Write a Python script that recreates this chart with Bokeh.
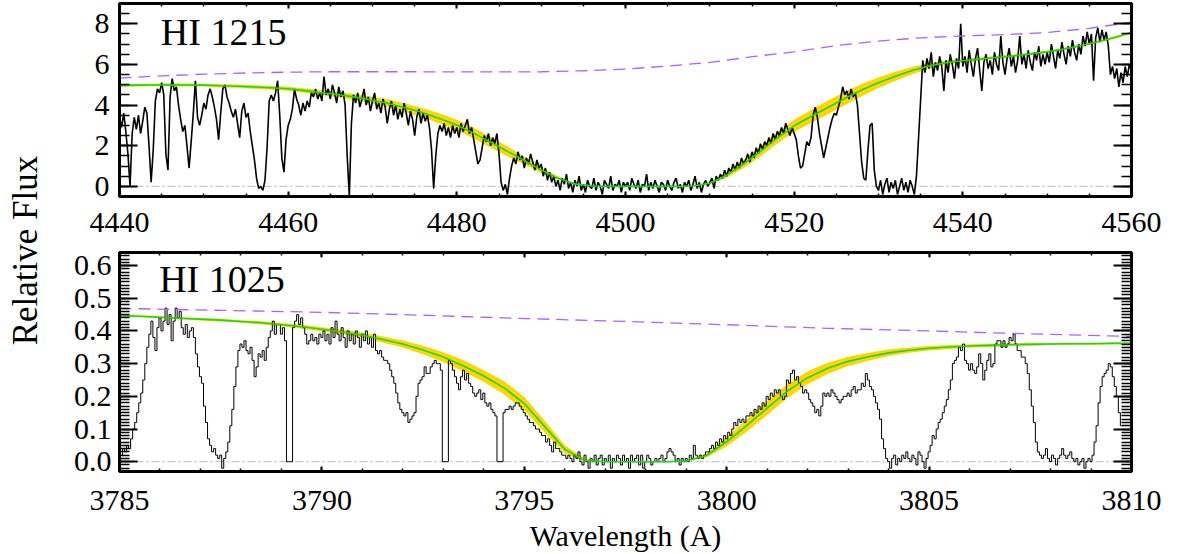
import numpy as np
from bokeh.plotting import figure
from bokeh.layouts import row, column
from bokeh.models import (Range1d, LinearAxis, SingleIntervalTicker,
                          PrintfTickFormatter, Span, Label)
from bokeh.embed import file_html
from bokeh.resources import INLINE

SERIF = "Liberation Serif"
GREEN = "#12dc12"
GOLD = "#ffd400"
VIOLET = "#b35ef7"
ZERO_GREY = "#b8b8b8"

# ---------------- HI 1215 (Lyman alpha) ----------------
lya_wave0, lya_dwave = 4440.0, 0.25
lya_flux = [
    3.4, 2.9, 3.6, 2.7, 1.6, 0.0, 2.6, 3.4, 2.8, 3.5, 2.6, 3.2, 3.9, 3.6, 2.0, 0.2, 1.8, 4.2, 4.8, 4.6,
    5.1, 4.5, 1.6, 0.8, 4.4, 5.3, 4.7, 4.9, 4.0, 3.3, 2.7, 3.0, 2.0, 0.9, 2.2, 3.6, 5.2, 3.4, 3.0, 3.5,
    4.1, 3.8, 4.5, 4.8, 4.4, 3.9, 3.3, 2.3, 3.6, 4.8, 5.0, 4.4, 4.1, 3.7, 3.4, 3.8, 3.1, 2.4, 3.7, 4.1,
    3.4, 3.6, 2.7, 2.0, 1.3, 0.4, -0.1, 0.0, -0.2, 0.3, 1.9, 4.2, 4.5, 4.2, 4.6, 5.2, 3.5, 1.4, 0.7, 2.3,
    3.0, 3.3, 3.8, 4.8, 4.3, 4.0, 3.5, 4.1, 3.7, 4.2, 3.9, 4.6, 4.4, 4.8, 4.3, 4.6, 4.2, 5.4, 4.5, 4.8,
    4.3, 5.0, 4.6, 4.1, 4.9, 4.4, 4.7, 4.0, 1.5, -0.5, 3.1, 4.5, 4.1, 4.6, 3.9, 4.3, 4.8, 4.0, 4.4, 3.7,
    4.2, 4.6, 3.8, 4.1, 3.6, 4.3, 3.9, 3.1, 3.8, 4.2, 3.5, 4.0, 3.3, 3.8, 3.4, 4.1, 3.6, 3.0, 3.7, 3.3,
    2.5, 3.4, 3.8, 3.1, 3.6, 3.2, 3.5, 2.9, 1.8, -0.1, 1.5, 2.6, 3.0, 2.7, 3.1, 2.5, 2.9, 2.4, 3.0, 2.6,
    2.9, 2.4, 3.1, 2.7, 3.0, 3.3, 2.6, 2.9, 2.3, 1.7, 1.1, 1.3, 1.9, 2.5, 2.2, 2.6, 2.0, 2.4, 2.1, 2.6,
    1.6, 0.2, -0.2, 0.1, -0.4, 0.4, 1.0, 1.4, 1.1, 1.7, 1.3, 1.5, 0.9, 1.4, 1.1, 1.6, 1.2, 0.8, 1.3, 0.9,
    1.1, 0.5, 0.9, 0.3, 0.7, 0.2, 0.5, 0.0, 0.3, -0.2, 0.4, 0.1, 0.6, -0.1, 0.2, -0.3, 0.3, 0.0, 0.5, -0.2,
    0.1, -0.3, 0.3, 0.0, -0.1, 0.4, -0.2, 0.2, 0.0, -0.4, 0.3, 0.1, -0.1, 0.5, -0.2, 0.1, 0.0, 0.3, -0.3, 0.2,
    0.0, 0.2, -0.2, 0.4, 0.1, -0.1, 0.3, -0.3, 0.1, 0.0, 0.6, -0.2, 0.2, -0.1, 0.3, 0.0, -0.3, 0.2, 0.1, -0.2,
    0.3, 0.0, -0.2, 0.2, 0.4, -0.1, 0.1, -0.3, 0.2, 0.0, 0.3, -0.2, 0.1, 0.5, -0.1, 0.2, -0.3, 0.1, 0.3, 0.0,
    0.2, 0.4, -0.1, 0.5, 0.3, 0.6, 0.4, 0.8, 0.5, 0.9, 0.7, 1.1, 0.8, 1.2, 0.9, 1.4, 1.1, 1.3, 1.6, 1.2,
    1.7, 1.4, 1.9, 1.6, 2.1, 1.8, 2.2, 2.0, 2.4, 2.1, 2.6, 2.3, 2.7, 2.5, 2.9, 2.6, 3.1, 2.8, 2.5, 2.9,
    2.6, 2.3, 1.5, 0.9, 1.0, 1.6, 2.2, 2.0, 2.4, 3.5, 3.9, 3.4, 2.6, 2.0, 1.4, 1.9, 2.4, 2.9, 3.3, 3.6,
    3.5, 3.9, 4.3, 4.9, 4.5, 4.7, 4.3, 4.8, 4.4, 4.6, 4.0, 2.6, 1.2, 0.4, 0.3, 1.8, 3.0, 3.1, 0.8, 0.0,
    -0.2, 0.3, -0.4, 0.1, 0.4, -0.3, 0.2, -0.1, 0.3, -0.4, 0.0, 0.4, -0.2, 0.2, -0.3, 0.3, 0.0, -0.4, 0.5, 2.4,
    4.3, 6.2, 5.6, 6.3, 5.8, 6.6, 5.4, 6.1, 5.7, 6.4, 5.9, 4.7, 6.2, 5.6, 6.5, 6.0, 5.3, 6.3, 5.8, 8.0,
    5.9, 6.4, 5.6, 6.7, 6.0, 5.4, 6.3, 6.8, 5.7, 4.7, 6.1, 6.5, 5.8, 6.2, 5.5, 6.6, 6.0, 5.7, 7.4, 6.1,
    5.5, 6.3, 6.8, 5.9, 6.4, 5.6, 6.2, 7.4, 6.0, 6.5, 5.8, 6.7, 6.1, 5.7, 6.6, 6.2, 6.9, 5.9, 6.5, 6.0,
    6.6, 6.1, 7.0, 6.4, 5.8, 6.7, 6.3, 7.1, 6.5, 6.0, 6.9, 6.4, 7.2, 6.6, 6.2, 7.0, 6.5, 7.4, 6.9, 7.6,
    7.0, 7.5, 5.2, 7.3, 7.8, 7.1, 7.7, 7.2, 7.6, 6.9, 5.5, 5.9, 5.3, 5.8, 4.9, 5.6, 5.1, 5.9, 5.4, 6.0,
    5.7,
]
lya_fit_wave0, lya_fit_dwave = 4440.0, 2.0
lya_fit = [
    4.96, 4.98, 4.99, 5.00, 4.99, 4.98, 4.95, 4.93, 4.89, 4.85,
    4.80, 4.71, 4.61, 4.51, 4.39, 4.24, 4.07, 3.86, 3.62, 3.33,
    3.02, 2.62, 2.17, 1.72, 1.27, 0.80, 0.40, 0.12, 0.02, 0.00,
    0.00, 0.00, 0.00, 0.00, 0.02, 0.15, 0.55, 1.10, 1.72, 2.38,
    2.98, 3.44, 3.88, 4.32, 4.74, 5.10, 5.42, 5.70, 5.92, 6.08,
    6.18, 6.26, 6.34, 6.42, 6.52, 6.62, 6.76, 6.93, 7.12, 7.33,
    7.57,
]
lya_fit_err = [
    0.06, 0.06, 0.06, 0.07, 0.07, 0.07, 0.08, 0.08, 0.09, 0.09,
    0.10, 0.11, 0.12, 0.13, 0.15, 0.17, 0.19, 0.21, 0.23, 0.25,
    0.26, 0.27, 0.26, 0.24, 0.20, 0.14, 0.08, 0.03, 0.01, 0.00,
    0.00, 0.00, 0.00, 0.00, 0.01, 0.05, 0.13, 0.20, 0.24, 0.27,
    0.30, 0.32, 0.33, 0.32, 0.30, 0.26, 0.22, 0.18, 0.14, 0.11,
    0.09, 0.08, 0.07, 0.07, 0.06, 0.06, 0.06, 0.06, 0.06, 0.06,
    0.06,
]
lya_cont_wave = [4440, 4445, 4450, 4455, 4460, 4465, 4470, 4475, 4480, 4485,
                 4490, 4495, 4500, 4505, 4510, 4515, 4520, 4525, 4530, 4535,
                 4540, 4545, 4550, 4555, 4560]
lya_cont = [5.33, 5.44, 5.52, 5.58, 5.62, 5.64, 5.64, 5.64, 5.63, 5.63,
            5.64, 5.69, 5.77, 5.92, 6.10, 6.38, 6.62, 6.93, 7.15, 7.31,
            7.40, 7.47, 7.57, 7.78, 8.08]

# ---------------- HI 1025 (Lyman beta) ----------------
lyb_wave0, lyb_dwave = 3785.0, 0.05
lyb_flux = [
    0.03, 0.02, 0.04, 0.03, 0.05, 0.04, 0.07, 0.10, 0.12, 0.15, 0.18, 0.21, 0.25, 0.30, 0.35, 0.39, 0.43, 0.38, 0.34, 0.41,
    0.44, 0.40, 0.43, 0.47, 0.42, 0.45, 0.37, 0.43, 0.47, 0.44, 0.46, 0.41, 0.39, 0.42, 0.38, 0.40, 0.41, 0.38, 0.33, 0.29,
    0.26, 0.24, 0.17, 0.12, 0.07, 0.05, 0.03, 0.04, 0.02, 0.01, 0.02, -0.02, 0.01, 0.03, 0.06, 0.11, 0.16, 0.23, 0.29, 0.34,
    0.36, 0.35, 0.37, 0.34, 0.33, 0.35, 0.31, 0.26, 0.29, 0.33, 0.32, 0.34, 0.31, 0.35, 0.38, 0.40, 0.43, 0.39, 0.42, 0.42,
    0.39, 0.41, 0.37, 0.00, 0.00, 0.00, 0.41, 0.43, 0.45, 0.42, 0.44, 0.41, 0.39, 0.36, 0.37, 0.39, 0.37, 0.38, 0.36, 0.39,
    0.38, 0.40, 0.37, 0.39, 0.36, 0.41, 0.38, 0.43, 0.39, 0.37, 0.41, 0.38, 0.35, 0.40, 0.37, 0.39, 0.36, 0.40, 0.38, 0.35,
    0.39, 0.37, 0.40, 0.36, 0.38, 0.35, 0.39, 0.34, 0.33, 0.34, 0.32, 0.31, 0.31, 0.30, 0.28, 0.26, 0.24, 0.21, 0.18, 0.16,
    0.15, 0.14, 0.15, 0.12, 0.13, 0.14, 0.15, 0.20, 0.24, 0.25, 0.26, 0.29, 0.27, 0.27, 0.29, 0.30, 0.31, 0.30, 0.30, 0.28,
    0.00, 0.00, 0.00, 0.31, 0.30, 0.28, 0.26, 0.24, 0.22, 0.26, 0.28, 0.25, 0.27, 0.24, 0.23, 0.21, 0.20, 0.21, 0.22, 0.19,
    0.21, 0.18, 0.17, 0.18, 0.16, 0.15, 0.14, 0.00, 0.00, 0.00, 0.15, 0.16, 0.16, 0.17, 0.16, 0.17, 0.18, 0.18, 0.17, 0.16,
    0.15, 0.14, 0.13, 0.12, 0.12, 0.11, 0.10, 0.10, 0.09, 0.08, 0.08, 0.06, 0.07, 0.05, 0.03, 0.06, 0.04, 0.04, 0.03, 0.02,
    0.02, 0.01, 0.02, 0.01, 0.00, 0.02, 0.01, 0.03, 0.00, -0.01, 0.02, 0.00, -0.02, 0.01, 0.00, 0.02, -0.01, 0.01, 0.02, -0.01,
    0.01, 0.00, 0.02, -0.02, 0.01, 0.00, 0.02, 0.01, -0.01, 0.02, 0.00, 0.01, -0.02, 0.02, 0.00, 0.01, 0.02, -0.01, 0.02, -0.02,
    0.00, 0.02, 0.01, -0.01, 0.00, 0.01, 0.00, 0.01, 0.02, 0.00, 0.01, 0.03, 0.04, 0.03, 0.02, 0.00, 0.01, -0.01, 0.01, 0.00,
    0.01, 0.00, 0.02, 0.01, 0.05, 0.02, 0.01, 0.02, 0.01, 0.02, 0.03, 0.03, 0.04, 0.05, 0.04, 0.06, 0.05, 0.07, 0.06, 0.08,
    0.07, 0.09, 0.08, 0.10, 0.12, 0.11, 0.13, 0.12, 0.13, 0.12, 0.14, 0.14, 0.15, 0.14, 0.16, 0.15, 0.17, 0.16, 0.18, 0.17,
    0.20, 0.19, 0.21, 0.20, 0.22, 0.21, 0.22, 0.20, 0.19, 0.20, 0.25, 0.24, 0.27, 0.28, 0.25, 0.26, 0.24, 0.23, 0.21, 0.22,
    0.21, 0.19, 0.18, 0.17, 0.15, 0.16, 0.14, 0.17, 0.21, 0.20, 0.21, 0.20, 0.22, 0.21, 0.20, 0.19, 0.18, 0.19, 0.20, 0.20,
    0.21, 0.20, 0.22, 0.23, 0.21, 0.22, 0.22, 0.24, 0.23, 0.27, 0.25, 0.23, 0.22, 0.20, 0.18, 0.16, 0.13, 0.07, 0.04, 0.01,
    0.00, -0.02, 0.01, 0.02, -0.01, 0.01, 0.00, 0.02, 0.01, 0.03, 0.01, 0.00, 0.02, 0.01, -0.01, 0.03, 0.02, 0.00, -0.02, 0.01,
    0.03, 0.05, 0.08, 0.07, 0.10, 0.12, 0.13, 0.15, 0.17, 0.19, 0.22, 0.25, 0.30, 0.31, 0.32, 0.35, 0.34, 0.36, 0.31, 0.30,
    0.28, 0.30, 0.28, 0.27, 0.29, 0.33, 0.30, 0.25, 0.28, 0.31, 0.33, 0.29, 0.30, 0.36, 0.37, 0.37, 0.35, 0.37, 0.35, 0.36,
    0.38, 0.37, 0.39, 0.36, 0.34, 0.34, 0.32, 0.32, 0.30, 0.27, 0.22, 0.17, 0.12, 0.06, 0.03, 0.02, 0.01, 0.02, 0.04, 0.01,
    0.00, 0.02, 0.01, -0.01, 0.01, 0.02, 0.04, 0.02, 0.01, 0.02, 0.03, 0.01, 0.00, 0.01, -0.01, 0.00, 0.01, -0.02, 0.00, 0.01,
    0.00, 0.02, 0.06, 0.11, 0.18, 0.23, 0.26, 0.27, 0.28, 0.30, 0.29, 0.26, 0.23, 0.20, 0.15, 0.11,
]
lyb_fit_wave0, lyb_fit_dwave = 3785.0, 0.5
lyb_fit = [
    0.447, 0.445, 0.442, 0.439, 0.436, 0.433, 0.429, 0.425, 0.419, 0.413,
    0.405, 0.397, 0.387, 0.374, 0.360, 0.342, 0.320, 0.293, 0.262, 0.226,
    0.178, 0.108, 0.038, 0.004, 0.000, 0.000, 0.000, 0.000, 0.002, 0.019,
    0.061, 0.111, 0.164, 0.216, 0.257, 0.286, 0.307, 0.321, 0.333, 0.341,
    0.347, 0.351, 0.354, 0.356, 0.358, 0.359, 0.360, 0.361, 0.361, 0.362,
    0.362,
]
lyb_fit_err = [
    0.003, 0.003, 0.003, 0.003, 0.004, 0.004, 0.004, 0.005, 0.005, 0.006,
    0.006, 0.007, 0.008, 0.009, 0.011, 0.013, 0.015, 0.017, 0.018, 0.020,
    0.020, 0.018, 0.012, 0.004, 0.000, 0.000, 0.000, 0.000, 0.001, 0.006,
    0.014, 0.019, 0.021, 0.021, 0.020, 0.017, 0.014, 0.012, 0.010, 0.008,
    0.007, 0.006, 0.005, 0.005, 0.004, 0.004, 0.003, 0.003, 0.003, 0.003,
    0.003,
]
lyb_cont_wave = [3785.0, 3787.5, 3790.0, 3792.5, 3795.0, 3797.5,
                 3800.0, 3802.5, 3805.0, 3807.5, 3810.0]
lyb_cont = [0.469, 0.463, 0.457, 0.448, 0.438, 0.429,
            0.419, 0.408, 0.400, 0.391, 0.383]


def dress_axis(ax, interval, n_minor, fmt, major_in, minor_in, labelled, standoff=0):
    ax.ticker = SingleIntervalTicker(interval=interval, num_minor_ticks=n_minor)
    ax.formatter = PrintfTickFormatter(format=fmt)
    ax.axis_line_color = "black"
    ax.axis_line_width = 3
    ax.major_tick_in = major_in
    ax.major_tick_out = 0
    ax.minor_tick_in = minor_in
    ax.minor_tick_out = 0
    ax.major_tick_line_color = "black"
    ax.minor_tick_line_color = "black"
    ax.major_tick_line_width = 2
    ax.minor_tick_line_width = 1.5
    if labelled:
        ax.major_label_text_font = SERIF
        ax.major_label_text_font_size = "30px"
        ax.major_label_text_color = "black"
        ax.major_label_standoff = standoff
    else:
        # mirrored tick marks only: no numbers on the top / right edges
        ax.major_label_text_font_size = "0px"
        ax.major_label_text_color = None
        ax.major_label_standoff = 0


def panel(xr, yr, height, border_top, border_bottom,
          xint, xminor, yint, yminor, yfmt, x_major, x_minor, xstand, ystand):
    p = figure(width=1127, height=height,
               x_range=Range1d(*xr), y_range=Range1d(*yr),
               output_backend="svg", toolbar_location=None,
               min_border_left=69, min_border_right=46,
               min_border_top=border_top, min_border_bottom=border_bottom,
               background_fill_color="white", border_fill_color="white")
    p.outline_line_color = "black"
    p.outline_line_width = 3
    p.xgrid.visible = False
    p.ygrid.visible = False
    dress_axis(p.below[0], xint, xminor, "%d", x_major, x_minor, True, xstand)
    dress_axis(p.left[0], yint, yminor, yfmt, 18, 10, True, ystand)
    top_ax = LinearAxis()
    dress_axis(top_ax, xint, xminor, "%d", x_major, x_minor, False)
    p.add_layout(top_ax, "above")
    right_ax = LinearAxis()
    dress_axis(right_ax, yint, yminor, yfmt, 18, 10, False)
    p.add_layout(right_ax, "right")
    p.add_layout(Span(location=0, dimension="width", line_color=ZERO_GREY,
                      line_width=1, line_dash="8 3 2 3", level="underlay"))
    return p


# ---- top panel: HI 1215 ----
lya_wave = lya_wave0 + lya_dwave * np.arange(len(lya_flux))
lya_fit_wave = lya_fit_wave0 + lya_fit_dwave * np.arange(len(lya_fit))
lya_fit_arr = np.array(lya_fit)
lya_err_arr = np.array(lya_fit_err)

p1 = panel((4440, 4560), (-0.5, 9.0), 246, 3, 50,
           20, 4, 2, 4, "%d", 5, 3, 16, 10)
p1.varea(x=lya_fit_wave, y1=lya_fit_arr - lya_err_arr, y2=lya_fit_arr + lya_err_arr,
         fill_color=GOLD, fill_alpha=1.0)
p1.line(lya_wave, lya_flux, line_color="black", line_width=1.6)
p1.line(lya_fit_wave, lya_fit, line_color=GREEN, line_width=1.6)
p1.line(lya_cont_wave, lya_cont, line_color=VIOLET, line_width=1.3, line_dash="12 7")
p1.add_layout(Label(x=4444.9, y=7.58, text="HI 1215", text_font=SERIF,
                    text_font_size="38px", text_color="black",
                    text_baseline="middle", text_align="left"))

# ---- bottom panel: HI 1025 ----
lyb_wave = lyb_wave0 + lyb_dwave * np.arange(len(lyb_flux))
lyb_fit_wave = lyb_fit_wave0 + lyb_fit_dwave * np.arange(len(lyb_fit))
lyb_fit_arr = np.array(lyb_fit)
lyb_err_arr = np.array(lyb_fit_err)

p2 = panel((3785, 3810), (-0.03, 0.64), 308, 6, 81,
           5, 5, 0.1, 10, "%.1f", 5, 3, 19, 8)
xax = p2.below[0]
xax.axis_label = "Wavelength (A)"
xax.axis_label_text_font = SERIF
xax.axis_label_text_font_size = "30px"
xax.axis_label_text_font_style = "normal"
xax.axis_label_text_color = "black"
xax.axis_label_standoff = 6
p2.varea(x=lyb_fit_wave, y1=lyb_fit_arr - lyb_err_arr, y2=lyb_fit_arr + lyb_err_arr,
         fill_color=GOLD, fill_alpha=1.0)
p2.step(lyb_wave, lyb_flux, mode="center", line_color="black", line_width=1.0)
p2.line(lyb_fit_wave, lyb_fit, line_color=GREEN, line_width=1.6)
p2.line(lyb_cont_wave, lyb_cont, line_color=VIOLET, line_width=1.3, line_dash="12 7")
p2.add_layout(Label(x=3785.98, y=0.558, text="HI 1025", text_font=SERIF,
                    text_font_size="38px", text_color="black",
                    text_baseline="middle", text_align="left"))

# shared vertical title, in its own narrow strip left of both panels
ylab = figure(width=50, height=554, x_range=Range1d(0, 50), y_range=Range1d(0, 554),
              output_backend="svg", toolbar_location=None, min_border=0,
              x_axis_location=None, y_axis_location=None,
              outline_line_color=None, background_fill_color="white",
              border_fill_color="white")
ylab.xgrid.visible = False
ylab.ygrid.visible = False
ylab.add_layout(Label(x=25, y=304, text="Relative Flux", angle=90, angle_units="deg",
                      text_align="center", text_baseline="middle",
                      text_font=SERIF, text_font_size="35px", text_color="black"))

layout = row(ylab, column(p1, p2))

with open("out.html", "w") as fh:
    fh.write(file_html(layout, INLINE))
